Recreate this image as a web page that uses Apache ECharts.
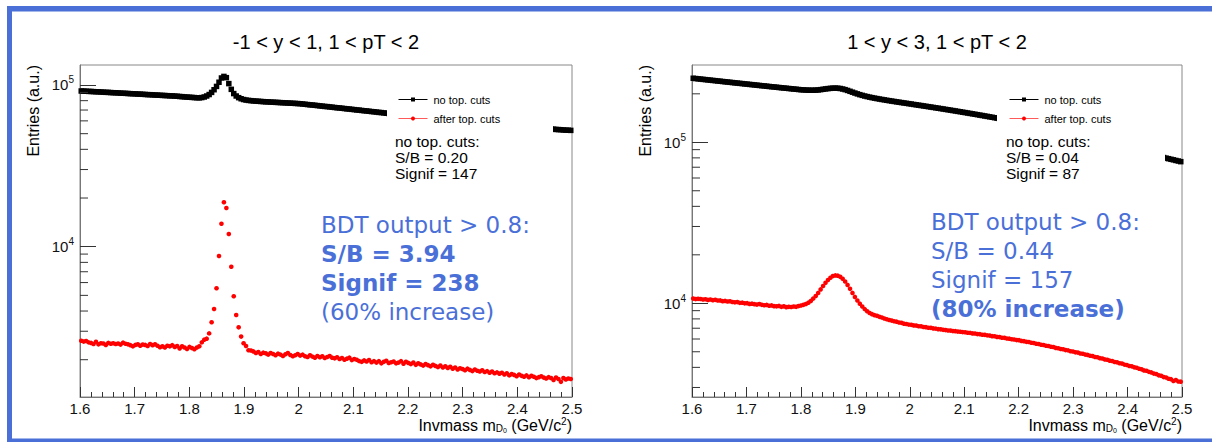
<!DOCTYPE html>
<html><head><meta charset="utf-8">
<script src="https://cdn.jsdelivr.net/npm/echarts@6/dist/echarts.min.js"></script>
<style>html,body{margin:0;padding:0;background:#fff;}#c{width:1212px;height:442px;}</style>
</head><body><div id="c"></div>
<script>
// ---------------- data ----------------
const X_MIN = 1.6, X_MAX = 2.5, BIN_WIDTH = 0.0045, X_TICK_STEP = 0.1;
const panelTitles = ['-1 < y < 1, 1 < pT < 2', '1 < y < 3, 1 < pT < 2'];
const seriesNames = ['no top. cuts', 'after top. cuts'];
const yMajorTicks = [1e4, 1e5];
const yMinorTicksLeft = [2000,3000,4000,5000,6000,7000,8000,9000,20000,30000,40000,50000,60000,70000,80000,90000];
const yMinorTicksRight = [3000,4000,5000,6000,7000,8000,9000,20000,30000,40000,50000,60000,70000,80000,90000,200000];
const statsNoCuts = [
  ['no top. cuts:', 'S/B = 0.20', 'Signif = 147'],
  ['no top. cuts:', 'S/B = 0.04', 'Signif = 87']
];
const statsBDT = [
  [['BDT output > 0.8:', false], ['S/B = 3.94', true], ['Signif = 238', true], ['(60% increase)', false]],
  [['BDT output > 0.8:', false], ['S/B = 0.44', false], ['Signif = 157', false], ['(80% increase)', true]]
];
const xTitle = ['Invmass m', 'D', '0', ' (GeV/c', '2', ')'];
const yTitle = 'Entries (a.u.)';

const leftNoCuts = [
91800,91700,91500,91300,91200,91000,90800,90700,90500,90300,
90100,90000,89800,89600,89500,89300,89100,88900,88800,88600,
88400,88300,88100,87900,87800,87600,87400,87200,87100,86900,
86700,86600,86400,86200,86100,85900,85700,85600,85400,85200,
84900,84700,84400,84200,84000,83800,83600,83400,83300,83600,
84300,85500,87300,90000,93500,98000,104000,110500,113000,111000,
102000,94000,88500,85500,83500,82200,81300,80700,80300,80000,
79700,79500,79300,79100,78900,78700,78600,78400,78300,78100,
78000,77800,77700,77500,77400,77200,77100,76900,76800,76600,
76300,76000,75700,75400,75200,74900,74600,74300,74000,73700,
73500,73200,72900,72600,72300,72100,71800,71500,71200,71000,
70700,70400,70100,69900,69600,69300,69100,68800,68500,68300,
68000,67700,67500,67200,66900,66700,66400,66200,65900,65700,
65400,65200,65000,64700,64500,64300,64000,63800,63600,63400,
63100,62900,62700,62500,62300,62000,61800,61600,61400,61200,
61000,60800,60600,60400,60200,60000,59800,59600,59400,59200,
59000,58800,58600,58400,58200,58000,57800,57600,57400,57200,
57000,56800,56600,56500,56300,56100,55900,55700,55500,55400,
55200,55000,54800,54700,54500,54300,54200,54000,53900,53700,
53600,53400,53300,53100,53000,52900,52700,52600,52500,52400];

const leftAfterCuts = [
2620,2590,2610,2560,2540,2500,2580,2490,2530,2520,
2470,2540,2510,2530,2500,2520,2480,2550,2510,2490,
2460,2420,2470,2490,2440,2480,2470,2430,2500,2460,
2490,2440,2390,2420,2380,2440,2420,2460,2400,2430,
2350,2420,2380,2330,2400,2360,2320,2380,2420,2560,
2660,2700,2910,3410,4120,5530,8760,13870,18820,17340,
11980,7520,4940,3780,3170,2780,2530,2430,2290,2280,
2250,2200,2230,2170,2210,2190,2150,2200,2170,2130,
2180,2150,2110,2160,2200,2140,2100,2130,2170,2120,
2150,2100,2080,2130,2090,2060,2110,2070,2100,2050,
2080,2110,2060,2040,2070,2020,2050,2000,2030,2060,
1990,2020,2000,1960,1940,1980,1950,1990,1930,1960,
1920,1960,1900,1940,1970,1910,1930,1950,1900,1920,
1960,1890,1940,1910,1880,1920,1860,1900,1870,1840,
1880,1850,1820,1860,1830,1800,1840,1790,1820,1780,
1810,1760,1790,1740,1770,1750,1720,1760,1730,1700,
1740,1710,1690,1720,1680,1700,1660,1690,1650,1670,
1640,1660,1620,1650,1600,1630,1610,1580,1620,1590,
1570,1600,1560,1590,1570,1540,1560,1580,1550,1530,
1560,1540,1500,1550,1520,1460,1540,1510,1530,1520];

const rightNoCuts = [
249800,248800,247800,246900,245900,245000,244000,243100,242200,241300,
240300,239400,238500,237600,236700,235800,234900,234000,233100,232300,
231400,230500,229700,228800,228000,227100,226300,225400,224600,223800,
223000,222100,221300,220500,219700,218900,218100,217300,216500,215800,
215000,214200,213500,212700,212000,211500,211000,210700,210500,210500,
210800,211400,212300,213400,214500,215500,216300,216800,217000,216700,
215800,214300,212300,209900,207300,204700,202200,199800,197600,195600,
193800,192200,190700,189300,188000,186800,185600,184500,183400,182300,
181300,180300,179300,178300,177400,176400,175500,174600,173700,172800,
171800,170900,170000,169100,168200,167300,166400,165500,164600,163700,
162800,161900,161000,160100,159200,158300,157400,156500,155600,154700,
153800,152900,152000,151100,150200,149300,148400,147500,146600,145700,
144800,143900,143000,142100,141200,140300,139400,138500,137600,136700,
135600,134500,133400,132300,131200,130100,129000,127900,126900,125800,
124800,123700,122700,121600,120600,119600,118600,117600,116600,115600,
114700,113700,112800,111800,110900,109900,109000,108100,107200,106300,
105400,104500,103600,102700,101900,101000,100200,99300,98500,97700,
96800,96000,95200,94400,93600,92800,92000,91300,90500,89700,
89000,88200,87500,86700,86000,85300,84600,83900,83200,82500,
81800,81100,80400,79700,79100,78400,77800,77100,76500,75800];

const rightAfterCuts = [
10700,10620,10660,10640,10560,10600,10490,10550,10460,10510,
10400,10420,10310,10350,10260,10300,10190,10140,10170,10060,
10090,9990,10020,9910,9950,9880,9820,9890,9780,9730,
9770,9660,9700,9600,9570,9630,9500,9570,9460,9510,
9480,9550,9510,9610,9690,9780,9900,10090,10350,10700,
11100,11600,12200,12800,13400,13950,14400,14750,14900,14850,
14600,14200,13650,13000,12300,11600,10950,10400,9950,9550,
9200,8920,8700,8560,8440,8360,8240,8160,8040,7960,
7880,7810,7730,7690,7600,7560,7470,7440,7370,7350,
7290,7270,7200,7190,7120,7110,7050,7040,6980,6960,
6910,6890,6840,6820,6780,6770,6720,6710,6670,6660,
6620,6610,6560,6550,6500,6490,6440,6430,6380,6370,
6320,6300,6250,6240,6180,6170,6110,6100,6040,6030,
5980,5960,5910,5900,5840,5820,5760,5750,5690,5670,
5610,5590,5530,5510,5450,5430,5370,5350,5280,5260,
5200,5180,5120,5100,5040,5020,4960,4940,4880,4860,
4800,4780,4720,4700,4640,4620,4560,4540,4480,4460,
4400,4380,4320,4300,4240,4220,4160,4140,4080,4060,
4000,3980,3920,3890,3830,3810,3750,3720,3660,3640,
3570,3550,3480,3460,3400,3380,3290,3340,3270,3260];

// ---------------- layout / style ----------------
const FONT = 'Liberation Sans, Arial, sans-serif';
const BLUE = '#4a70d8';
const TICK = '#333';
const MINOR_TICK_LEN = 8;
const panels = [
  { grid: {left: 80, top: 65, width: 492, height: 332}, yMin: 1176, yMax: 132950, minor: yMinorTicksLeft,
    data: [leftNoCuts, leftAfterCuts], cx: 326, legendLeft: 393, box: [387, 84, 166, 100], statX: 395, bdtX: 321, bdtTop: 210.5 },
  { grid: {left: 692, top: 65, width: 490, height: 332}, yMin: 2618, yMax: 302000, minor: yMinorTicksRight,
    data: [rightNoCuts, rightAfterCuts], cx: 937, legendLeft: 1004, box: [997, 84, 168, 100], statX: 1006, bdtX: 931, bdtTop: 207 }
];

const toPoints = arr => arr.map((v, i) => [X_MIN + BIN_WIDTH * (i + 0.5), v]);

const option = {
  animation: false,
  grid: [], xAxis: [], yAxis: [], series: [], legend: [], graphic: []
};

// slide frame
option.graphic.push(
  {type: 'rect', shape: {x: 7, y: 6, width: 1205, height: 5.5}, style: {fill: BLUE}, z: 0, silent: true},
  {type: 'rect', shape: {x: 7, y: 6, width: 5, height: 436}, style: {fill: BLUE}, z: 0, silent: true},
  {type: 'rect', shape: {x: 7, y: 438.5, width: 1205, height: 3.5}, style: {fill: BLUE}, z: 0, silent: true}
);

panels.forEach((p, k) => {
  option.grid.push(Object.assign({show: true, borderColor: '#888', borderWidth: 1, backgroundColor: 'transparent'}, p.grid));
  option.xAxis.push({
    type: 'value', gridIndex: k, min: X_MIN, max: X_MAX, interval: X_TICK_STEP,
    axisLine: {show: true, lineStyle: {color: '#777', width: 1}},
    axisTick: {show: true, inside: true, length: 10, lineStyle: {color: TICK}},
    minorTick: {show: true, splitNumber: 5, length: 5, lineStyle: {color: TICK}},
    splitLine: {show: false}, minorSplitLine: {show: false},
    axisLabel: {margin: 4, fontSize: 15, lineHeight: 15, fontFamily: FONT, color: '#111',
      formatter: v => String(Math.round(v * 10) / 10)}
  });
  option.yAxis.push({
    type: 'log', gridIndex: k, min: p.yMin, max: p.yMax,
    axisLine: {show: true, lineStyle: {color: '#777'}},
    axisTick: {show: true, inside: true, length: 16, customValues: yMajorTicks, lineStyle: {color: TICK}},
    splitLine: {show: false},
    axisLabel: {show: true, customValues: yMajorTicks, margin: 6, fontFamily: FONT, color: '#111',
      formatter: v => '{b|10}{e|' + Math.round(Math.log10(v)) + '}',
      rich: {b: {fontSize: 15, lineHeight: 20, fontFamily: FONT, color: '#111'},
             e: {fontSize: 10, lineHeight: 10, verticalAlign: 'top', fontFamily: FONT, color: '#111'}}}
  });
  option.series.push({
    type: 'line', name: seriesNames[0], xAxisIndex: k, yAxisIndex: k,
    data: toPoints(p.data[0]), symbol: 'rect', symbolSize: 5.5, showSymbol: true, showAllSymbol: true,
    lineStyle: {width: 0}, itemStyle: {color: '#000'}, silent: true, z: 2
  });
  option.series.push({
    type: 'line', name: seriesNames[1], xAxisIndex: k, yAxisIndex: k,
    data: toPoints(p.data[1]), symbol: 'circle', symbolSize: 4.6, showSymbol: true, showAllSymbol: true,
    lineStyle: {width: 0}, itemStyle: {color: '#ff0000'}, silent: true, z: 2
  });
  option.legend.push({
    orient: 'vertical', left: p.legendLeft, top: 89, itemWidth: 29, itemHeight: 5, itemGap: 8,
    selectedMode: false, z: 6,
    textStyle: {fontSize: 11, fontFamily: FONT, color: '#000', padding: [0, 0, 0, 1]},
    data: [
      {name: seriesNames[0], lineStyle: {width: 1, color: '#000', opacity: 1}, itemStyle: {color: '#000'}},
      {name: seriesNames[1], lineStyle: {width: 1, color: '#ff5a5a', opacity: 1}, itemStyle: {color: '#ff0000'}}
    ]
  });
  option.graphic.push({type: 'rect', shape: {x: p.box[0], y: p.box[1], width: p.box[2], height: p.box[3]},
    style: {fill: '#fff'}, z: 3, silent: true});
  option.graphic.push({type: 'text', x: p.statX, y: 133.7, z: 7, silent: true,
    style: {text: statsNoCuts[k].join('\n'), fontSize: 15.5, lineHeight: 16, fontFamily: FONT, fill: '#000',
      align: 'left', verticalAlign: 'top'}});
  option.graphic.push({type: 'text', x: p.bdtX, y: p.bdtTop, z: 7, silent: true,
    style: {text: statsBDT[k].map(([t, b]) => '{' + (b ? 'b' : 'n') + '|' + t + '}').join('\n'),
      align: 'left', verticalAlign: 'top',
      rich: {n: {fontSize: 23, lineHeight: 29, fontFamily: 'DejaVu Sans', fill: BLUE, fontWeight: 'normal'},
             b: {fontSize: 23, lineHeight: 29, fontFamily: 'DejaVu Sans', fill: BLUE, fontWeight: 'bold'}}}});
  option.graphic.push({type: 'text', x: p.cx, y: 42, z: 7, silent: true,
    style: {text: panelTitles[k], fontSize: 20, fontFamily: FONT, fill: '#000', align: 'center', verticalAlign: 'middle'}});
  option.graphic.push({type: 'text', x: p.grid.left - 47, y: p.grid.top, rotation: Math.PI / 2, z: 7, silent: true,
    style: {text: yTitle, fontSize: 16, fontFamily: FONT, fill: '#000', align: 'right', verticalAlign: 'middle'}});
  option.graphic.push({type: 'text', x: p.grid.left + p.grid.width, y: 425, z: 7, silent: true,
    style: {text: '{n|' + xTitle[0] + '}{sub|' + xTitle[1] + '}{ss|' + xTitle[2] + '}{n|' + xTitle[3] + '}{sup|' + xTitle[4] + '}{n|' + xTitle[5] + '}',
      align: 'right', verticalAlign: 'middle',
      rich: {n: {fontSize: 16, lineHeight: 17, fontFamily: FONT, fill: '#000'},
             sub: {fontSize: 10, lineHeight: 8, verticalAlign: 'bottom', fontFamily: FONT, fill: '#000'},
             ss: {fontSize: 7, lineHeight: 15, verticalAlign: 'bottom', fontFamily: FONT, fill: '#000'},
             sup: {fontSize: 10, lineHeight: 8, verticalAlign: 'top', fontFamily: FONT, fill: '#000'}}}});
});

const chart = echarts.init(document.getElementById('c'), null, {renderer: 'svg', width: 1212, height: 442});
chart.setOption(option);

// minor log ticks on the left frame edge, placed through each panel's own log y-axis scale
const minorTickGraphics = [];
panels.forEach((p, k) => {
  p.minor.forEach(v => {
    const y = chart.convertToPixel({yAxisIndex: k}, v);
    minorTickGraphics.push({type: 'line', silent: true, z: 5,
      shape: {x1: p.grid.left, y1: y, x2: p.grid.left + MINOR_TICK_LEN, y2: y},
      style: {stroke: TICK, lineWidth: 1}});
  });
});
chart.setOption({graphic: option.graphic.concat(minorTickGraphics)});
</script></body></html>
